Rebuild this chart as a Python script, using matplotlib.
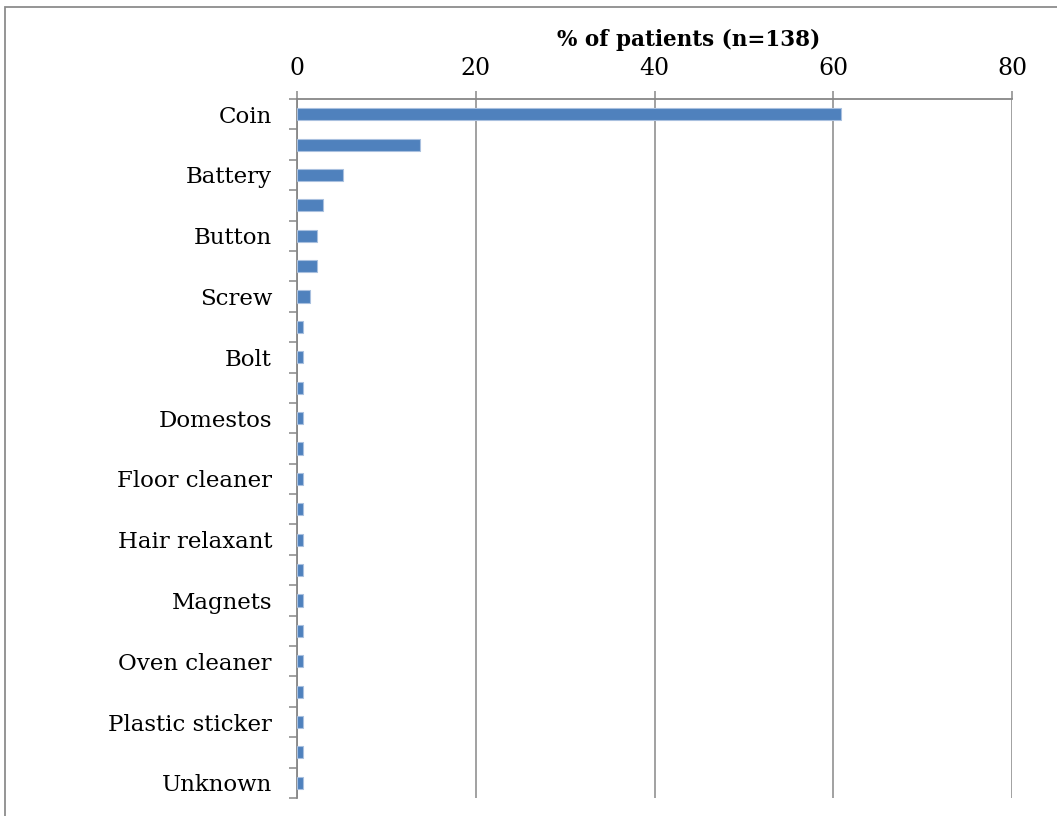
import matplotlib
matplotlib.use("Agg")
import matplotlib.pyplot as plt
from matplotlib.patches import Rectangle
import numpy as np

# objects / substances ingested; only every other category is labelled on the axis
categories = ["Coin", "", "Battery", "", "Button", "", "Screw", "", "Bolt", "",
              "Domestos", "", "Floor cleaner", "", "Hair relaxant", "", "Magnets", "",
              "Oven cleaner", "", "Plastic sticker", "", "Unknown"]
pct_patients = [60.9, 13.8, 5.1, 2.9, 2.2, 2.2, 1.4, 0.7, 0.7, 0.7, 0.7, 0.7,
                0.7, 0.7, 0.7, 0.7, 0.7, 0.7, 0.7, 0.7, 0.7, 0.7, 0.7]
x_ticks = [0, 20, 40, 60, 80]

W, H = 1057, 816
plt.rcParams["font.family"] = ["DejaVu Serif"]

fig = plt.figure(figsize=(W / 100, H / 100), dpi=100)
ax = fig.add_axes([297 / W, 1 - 798 / H, (1012 - 297) / W, (798 - 99) / H])

grey = "#878787"
y = np.arange(len(categories))
ax.barh(y, pct_patients, height=0.4, color="#4f81bd", edgecolor="#a9c0df",
        linewidth=0.8, zorder=3)

ax.set_xlim(0, 80)
ax.set_ylim(len(categories) - 0.5, -0.5)
ax.set_xticks(x_ticks)
ax.xaxis.set_ticks_position("top")
ax.xaxis.set_label_position("top")
ax.tick_params(axis="x", which="major", direction="out", length=6, width=1.1,
               color=grey, pad=8, labelsize=17)
ax.grid(axis="x", color=grey, linewidth=1.1, zorder=1)

ax.set_yticks(y)
ax.set_yticklabels(categories)
ax.set_yticks(np.arange(len(categories) + 1) - 0.5, minor=True)
ax.tick_params(axis="y", which="major", length=0, pad=18, labelsize=16.5)
ax.tick_params(axis="y", which="minor", direction="out", length=6, width=1.1, color=grey)

for side in ("right", "bottom"):
    ax.spines[side].set_visible(False)
for side in ("left", "top"):
    ax.spines[side].set_color(grey)
    ax.spines[side].set_linewidth(1.3)
ax.set_axisbelow(True)

fig.text(689 / W, 1 - 40 / H, "% of patients (n=138)", ha="center", va="center",
         fontsize=15.5, fontweight="bold")

# chart-area frame
fig.patches.append(Rectangle((5 / W, -0.1), 1.2, 1 - 7 / H + 0.1, transform=fig.transFigure,
                             fill=False, edgecolor="#8c8c8c", linewidth=1.3))

fig.savefig("out.png", dpi=100)
